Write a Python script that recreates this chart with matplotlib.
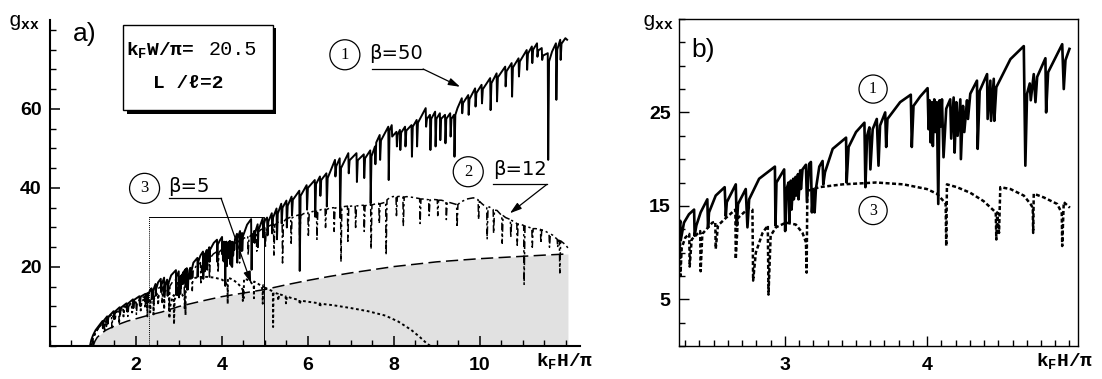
import numpy as np
import matplotlib
matplotlib.use("Agg")
import matplotlib.pyplot as plt
from matplotlib.patches import Rectangle
from matplotlib.ticker import MultipleLocator

plt.rcParams['mathtext.fontset'] = 'custom'
plt.rcParams['mathtext.rm'] = 'Liberation Mono'
plt.rcParams['mathtext.bf'] = 'Liberation Mono:bold'
plt.rcParams['mathtext.it'] = 'Liberation Mono:italic'

# ---------------- data ----------------
# curve 1 (beta=50), solid
beta50_lo = [(0.93, 0.0), (0.96, 1.5), (1.00, 2.7), (1.06, 4.0), (1.15, 5.3), (1.22, 6.3), (1.23, 4.5),
             (1.25, 6.4), (1.33, 7.5), (1.34, 5.6), (1.36, 7.4), (1.48, 8.8), (1.49, 6.8), (1.51, 8.7),
             (1.62, 9.8), (1.63, 8.0), (1.65, 9.7), (1.78, 10.8), (1.79, 8.8), (1.81, 10.7), (1.93, 11.8),
             (1.94, 9.6), (1.96, 11.7), (2.08, 12.6), (2.09, 10.3), (2.11, 12.5), (2.22, 13.2), (2.23, 11.0),
             (2.245, 12.4)]
beta50_zoom = [(2.256, 12.6), (2.265, 13.4), (2.268, 11.3), (2.291, 13.2), (2.326, 14.1), (2.362, 14.6),
               (2.366, 11.8), (2.378, 12.9), (2.408, 14.3), (2.455, 15.7), (2.460, 12.7), (2.467, 14.3),
               (2.514, 16.1), (2.577, 17.0), (2.585, 13.9), (2.592, 15.4), (2.655, 17.3), (2.662, 12.9),
               (2.671, 15.2), (2.725, 16.8), (2.737, 12.7), (2.749, 15.7), (2.819, 17.9), (2.930, 19.2),
               (2.934, 12.9), (2.941, 17.5), (2.995, 18.9), (3.002, 12.3), (3.012, 16.8), (3.026, 17.5),
               (3.031, 13.2), (3.042, 17.7), (3.047, 14.6), (3.059, 17.9), (3.063, 15.7), (3.075, 18.1),
               (3.080, 16.1), (3.092, 18.4), (3.096, 15.7), (3.108, 18.8), (3.113, 16.8), (3.124, 18.9),
               (3.148, 19.4), (3.155, 15.4), (3.171, 19.5), (3.183, 19.7), (3.190, 14.3), (3.200, 16.8),
               (3.209, 14.3), (3.218, 16.8), (3.242, 19.2), (3.265, 19.8), (3.270, 17.3), (3.282, 18.6),
               (3.336, 21.1), (3.430, 22.3), (3.434, 17.5), (3.448, 21.3), (3.500, 22.9), (3.559, 23.9),
               (3.566, 17.0), (3.578, 22.5), (3.594, 23.4), (3.601, 18.9), (3.617, 23.2), (3.646, 24.3),
               (3.658, 19.3), (3.669, 23.6), (3.705, 25.0), (3.712, 21.3), (3.721, 24.3), (3.810, 26.1),
               (3.885, 26.9), (3.892, 21.3), (3.904, 25.7), (3.951, 26.7), (4.003, 27.6), (4.010, 23.2),
               (4.017, 26.3), (4.024, 21.8), (4.033, 26.1), (4.040, 21.4), (4.050, 26.4), (4.057, 22.9),
               (4.068, 26.1), (4.078, 15.2), (4.087, 26.3), (4.095, 23.5), (4.104, 26.4), (4.115, 20.2),
               (4.134, 25.4), (4.162, 26.4), (4.169, 22.2), (4.186, 26.6), (4.193, 20.7), (4.205, 26.1),
               (4.214, 22.5), (4.233, 26.4), (4.237, 20.0), (4.252, 25.7), (4.261, 22.9), (4.280, 26.3),
               (4.287, 24.3), (4.303, 27.0), (4.350, 28.4), (4.355, 21.1), (4.369, 27.3), (4.421, 29.1),
               (4.425, 24.3), (4.444, 28.4), (4.449, 24.1), (4.468, 28.6), (4.472, 24.1), (4.486, 27.7),
               (4.585, 30.7), (4.679, 32.1), (4.690, 19.3), (4.702, 27.0), (4.721, 28.1), (4.728, 26.3),
               (4.749, 29.1), (4.761, 26.1), (4.773, 28.8), (4.831, 30.8), (4.836, 25.0), (4.850, 29.3),
               (4.949, 32.3), (4.960, 27.5), (4.972, 30.6), (5.000, 31.8)]
beta50_hi = [(5.05, 32.5), (5.06, 28.0), (5.08, 31.5), (5.16, 33.6), (5.17, 28.5), (5.19, 32.5), (5.27, 34.8),
             (5.28, 27.0), (5.30, 33.5), (5.38, 36.0), (5.39, 31.0), (5.41, 35.0), (5.50, 36.8), (5.51, 30.0),
             (5.53, 35.5), (5.62, 37.8), (5.63, 33.0), (5.65, 37.0), (5.80, 39.3), (5.81, 19.0), (5.83, 38.0),
             (5.97, 40.7), (5.98, 34.5), (6.00, 40.0), (6.16, 42.0), (6.17, 32.7), (6.19, 41.0), (6.28, 42.9),
             (6.29, 38.0), (6.31, 42.0), (6.43, 43.7), (6.44, 35.3), (6.46, 42.5), (6.63, 47.1), (6.64, 42.9),
             (6.66, 45.5), (6.74, 47.5), (6.75, 32.5), (6.77, 45.0), (6.94, 48.8), (6.95, 43.7), (6.97, 47.0),
             (7.13, 48.8), (7.14, 41.5), (7.16, 47.0), (7.30, 48.5), (7.31, 42.5), (7.33, 47.5), (7.45, 49.5),
             (7.46, 36.1), (7.48, 48.0), (7.56, 50.5), (7.57, 46.0), (7.59, 51.5), (7.67, 53.4), (7.68, 47.1),
             (7.70, 52.0), (7.87, 55.5), (7.88, 42.0), (7.90, 54.5), (7.95, 55.9), (7.96, 53.0), (8.06, 54.2),
             (8.07, 50.5), (8.09, 53.5), (8.14, 54.7), (8.15, 49.6), (8.17, 54.0), (8.26, 55.5), (8.27, 50.5),
             (8.29, 54.5), (8.41, 55.9), (8.42, 47.9), (8.44, 55.5), (8.53, 57.2), (8.54, 50.5), (8.56, 56.5),
             (8.74, 60.2), (8.75, 55.5), (8.77, 57.5), (8.84, 58.5), (8.85, 49.6), (8.87, 57.5), (8.96, 59.3),
             (8.97, 50.5), (8.99, 57.5), (9.07, 58.9), (9.08, 52.1), (9.10, 57.5), (9.19, 58.5), (9.20, 51.3),
             (9.22, 57.5), (9.31, 58.9), (9.32, 53.0), (9.34, 57.5), (9.40, 58.5), (9.41, 47.9), (9.43, 58.5),
             (9.48, 60.2), (9.58, 62.7), (9.59, 58.9), (9.61, 61.5), (9.73, 63.5), (9.74, 58.5), (9.76, 62.5),
             (9.89, 65.2), (9.90, 60.6), (9.92, 64.0), (10.04, 66.1), (10.05, 61.4), (10.07, 65.0),
             (10.24, 67.8), (10.25, 59.7), (10.27, 66.5), (10.39, 69.0), (10.40, 61.9), (10.42, 68.0),
             (10.59, 70.7), (10.60, 65.7), (10.62, 69.5), (10.74, 71.6), (10.75, 63.1), (10.77, 70.5),
             (10.90, 72.8), (10.91, 68.2), (10.93, 72.0), (11.09, 74.9), (11.10, 69.9), (11.12, 74.0),
             (11.21, 75.8), (11.22, 71.6), (11.24, 75.0), (11.33, 76.6), (11.34, 73.2), (11.36, 74.8),
             (11.44, 75.4), (11.45, 72.4), (11.47, 73.5), (11.58, 74.1), (11.59, 47.1), (11.61, 72.0),
             (11.68, 74.5), (11.77, 76.6), (11.78, 62.3), (11.80, 75.0), (11.87, 77.5), (11.88, 72.4),
             (11.90, 76.5), (11.99, 77.9), (12.03, 77.5)]

# curve 2 (beta=12), dash-dot
beta12_pts = [(0.97, 0.0), (1.00, 1.8), (1.05, 3.0), (1.12, 4.4), (1.20, 5.6), (1.26, 6.4), (1.27, 4.0), (1.29, 6.0),
              (1.35, 7.2), (1.43, 8.0), (1.44, 4.6), (1.46, 7.5), (1.52, 8.4), (1.60, 9.2), (1.61, 5.5), (1.63, 8.8),
              (1.70, 9.8), (1.80, 10.5), (1.81, 7.5), (1.83, 10.0), (1.90, 10.9), (2.00, 11.5), (2.01, 8.0),
              (2.03, 11.0), (2.10, 12.0), (2.20, 12.5), (2.21, 9.5), (2.23, 12.1), (2.30, 13.0), (2.40, 13.7),
              (2.41, 10.5), (2.43, 13.2), (2.50, 14.4), (2.60, 15.2), (2.61, 11.0), (2.63, 14.8), (2.70, 15.6),
              (2.76, 16.0), (2.77, 8.5), (2.79, 15.2), (2.85, 16.2), (2.95, 16.9), (2.96, 12.5), (2.98, 16.5),
              (3.05, 17.3), (3.12, 17.6), (3.13, 9.5), (3.15, 17.0), (3.20, 18.0), (3.30, 19.3), (3.31, 14.0),
              (3.33, 19.0), (3.40, 20.2), (3.50, 21.1), (3.51, 16.0), (3.53, 20.8), (3.60, 21.8), (3.70, 22.6),
              (3.71, 17.0), (3.73, 22.3), (3.80, 23.3), (3.90, 24.0), (3.91, 18.5), (3.93, 23.7), (4.00, 24.5),
              (4.10, 25.0), (4.11, 20.5), (4.13, 24.8), (4.20, 25.5), (4.21, 20.0), (4.23, 25.2), (4.30, 26.0),
              (4.40, 26.6), (4.41, 21.0), (4.43, 26.3), (4.50, 27.2), (4.60, 27.8), (4.61, 23.0), (4.63, 27.5),
              (4.70, 28.3), (4.80, 28.9), (4.81, 24.0), (4.83, 28.6), (4.90, 29.4), (5.00, 29.9), (5.01, 25.0),
              (5.03, 29.6), (5.10, 30.4), (5.20, 30.9), (5.21, 23.0), (5.23, 30.6), (5.30, 31.3), (5.40, 31.8),
              (5.41, 21.0), (5.43, 31.4), (5.50, 32.2), (5.60, 32.6), (5.61, 26.0), (5.63, 32.4), (5.70, 32.9),
              (5.80, 33.2), (5.81, 25.0), (5.83, 33.0), (5.90, 33.5), (6.00, 33.8), (6.01, 28.0), (6.03, 33.6),
              (6.10, 34.0), (6.20, 34.3), (6.21, 27.0), (6.23, 34.1), (6.30, 34.5), (6.40, 34.7), (6.41, 30.0),
              (6.43, 34.5), (6.50, 34.9), (6.60, 35.0), (6.61, 29.0), (6.63, 34.9), (6.70, 35.1), (6.76, 35.2),
              (6.77, 21.3), (6.79, 35.0), (6.85, 35.3), (6.92, 35.4), (6.93, 26.5), (6.95, 35.3), (7.00, 35.4),
              (7.10, 35.5), (7.11, 30.0), (7.13, 35.4), (7.20, 35.6), (7.30, 35.6), (7.31, 29.0), (7.33, 35.5),
              (7.40, 35.7), (7.46, 35.8), (7.47, 24.5), (7.49, 35.7), (7.55, 35.9), (7.65, 36.1), (7.66, 31.0),
              (7.68, 36.0), (7.75, 36.2), (7.81, 36.4), (7.82, 23.0), (7.84, 37.0), (7.90, 37.5), (7.97, 37.8),
              (8.05, 37.9), (8.06, 33.0), (8.08, 37.8), (8.15, 37.9), (8.21, 37.8), (8.22, 30.5), (8.24, 37.7),
              (8.30, 37.8), (8.45, 37.6), (8.60, 37.3), (8.61, 31.0), (8.63, 37.2), (8.70, 37.2), (8.81, 37.0),
              (8.82, 33.0), (8.84, 36.9), (8.90, 37.1), (9.01, 37.0), (9.02, 33.0), (9.04, 36.9), (9.10, 36.9),
              (9.21, 36.6), (9.22, 32.0), (9.24, 36.5), (9.30, 36.3), (9.46, 35.8), (9.47, 30.0), (9.49, 35.8),
              (9.55, 36.4), (9.70, 37.2), (9.85, 37.5), (9.96, 37.0), (9.97, 32.0), (9.99, 36.6), (10.05, 36.0),
              (10.16, 35.0), (10.17, 27.0), (10.19, 35.0), (10.22, 35.2), (10.31, 34.5), (10.32, 28.5),
              (10.34, 34.4), (10.40, 34.3), (10.51, 33.0), (10.52, 26.0), (10.54, 33.0), (10.60, 32.5),
              (10.71, 32.0), (10.72, 27.5), (10.74, 31.8), (10.78, 31.5), (10.86, 31.0), (10.87, 25.5),
              (10.89, 30.9), (10.95, 30.8), (11.02, 30.5), (11.03, 15.6), (11.05, 30.4), (11.10, 30.2),
              (11.21, 29.8), (11.22, 25.0), (11.24, 29.7), (11.30, 29.7), (11.41, 29.5), (11.42, 26.0),
              (11.44, 29.4), (11.50, 29.2), (11.61, 28.5), (11.62, 25.0), (11.64, 28.4), (11.70, 28.0),
              (11.80, 27.0), (11.81, 25.0), (11.83, 26.8), (11.85, 26.7), (11.86, 18.5), (11.88, 26.6),
              (11.95, 26.0), (12.00, 25.5), (12.05, 24.8)]

# curve 3 (beta=5), dotted
beta5_lo = [(0.96, 0.0), (0.99, 1.6), (1.03, 2.8), (1.10, 4.2), (1.20, 5.6), (1.30, 6.8), (1.31, 5.0), (1.33, 6.7),
            (1.40, 7.7), (1.50, 8.5), (1.51, 6.5), (1.53, 8.4), (1.60, 9.1), (1.70, 9.8), (1.71, 7.5), (1.73, 9.7),
            (1.80, 10.3), (1.90, 10.8), (1.91, 8.5), (1.93, 10.7), (2.00, 11.1), (2.10, 11.5), (2.11, 9.0),
            (2.13, 11.4), (2.20, 11.8), (2.24, 11.9), (2.25, 10.0)]
beta5_zoom = [(2.256, 9.8), (2.263, 11.5), (2.266, 7.5), (2.275, 10.5), (2.300, 11.6), (2.328, 12.0), (2.331, 8.5),
              (2.345, 11.4), (2.405, 12.3), (2.408, 8.0), (2.420, 12.0), (2.490, 13.2), (2.511, 13.3),
              (2.514, 10.4), (2.530, 12.9), (2.585, 13.7), (2.652, 14.6), (2.655, 9.3), (2.670, 13.7),
              (2.749, 14.8), (2.772, 14.6), (2.777, 7.0), (2.796, 10.0), (2.843, 12.1), (2.880, 12.9),
              (2.885, 5.5), (2.900, 11.8), (2.937, 12.7), (3.007, 13.2), (3.077, 13.0), (3.124, 12.1),
              (3.148, 11.1), (3.153, 7.85), (3.158, 16.6), (3.242, 17.0), (3.406, 17.3), (3.641, 17.5),
              (3.834, 17.3), (3.998, 16.8), (4.068, 16.3), (4.104, 15.7), (4.130, 15.2), (4.134, 10.7),
              (4.139, 17.3), (4.209, 17.0), (4.303, 16.4), (4.397, 15.5), (4.468, 14.5), (4.482, 14.3),
              (4.486, 11.4), (4.492, 14.3), (4.505, 12.1), (4.514, 17.0), (4.585, 16.8), (4.679, 16.1),
              (4.726, 15.2), (4.742, 14.8), (4.745, 12.1), (4.749, 16.3), (4.820, 15.9), (4.914, 15.2),
              (4.937, 14.5), (4.946, 14.2), (4.949, 10.7), (4.960, 15.4), (5.003, 14.8)]
beta5_hi = [(5.05, 14.5), (5.10, 14.3), (5.15, 14.0), (5.185, 13.8), (5.19, 4.8), (5.20, 13.6), (5.30, 13.2),
            (5.31, 11.5), (5.33, 13.1), (5.40, 12.9), (5.48, 12.6), (5.49, 10.8), (5.51, 12.5), (5.60, 12.2),
            (5.70, 11.9), (5.80, 11.6), (5.81, 10.5), (5.83, 11.5), (6.00, 11.2), (6.20, 10.9), (6.27, 10.8),
            (6.28, 9.8), (6.30, 10.7), (6.60, 10.3), (7.00, 9.6), (7.40, 8.8), (7.80, 7.7), (8.10, 6.2),
            (8.40, 4.1), (8.60, 2.3), (8.75, 0.8), (8.85, 0.0)]

# long-dashed curve with shaded area below
dash_x = [1.00, 1.05, 1.10, 1.20, 1.30, 1.45, 1.60, 1.80, 2.00, 2.30, 2.60, 3.00, 3.50, 4.00, 4.50, 5.00,
          5.50, 6.00, 6.50, 7.00, 7.50, 8.00, 8.50, 9.00, 9.50, 10.00, 10.50, 11.00, 11.50, 12.05]
dash_y = [0.0, 1.3, 2.2, 3.2, 4.0, 4.8, 5.5, 6.3, 6.9, 7.8, 8.6, 10.0, 11.3, 12.5, 13.4, 14.3,
          15.5, 16.6, 17.6, 18.5, 19.3, 20.1, 20.7, 21.3, 21.7, 22.1, 22.4, 22.7, 23.0, 23.3]

xticks_a = [2, 4, 6, 8, 10]
yticks_a = [20, 40, 60]
xticks_b = [3, 4]
yticks_b = [5, 15, 25]


def xy(*parts):
    a = np.array([p for part in parts for p in part])
    return a[:, 0], a[:, 1]


b50x, b50y = xy(beta50_lo, beta50_zoom, beta50_hi)
b12x, b12y = xy(beta12_pts)
b5x, b5y = xy(beta5_lo, beta5_zoom, beta5_hi)
z50x, z50y = xy(beta50_zoom)
z5x, z5y = xy(beta5_zoom)

W, H = 1102, 379
fig = plt.figure(figsize=(W / 100, H / 100), dpi=100)
axA = fig.add_axes([50 / W, (H - 346) / H, 530 / W, 326 / H])
axB = fig.add_axes([679 / W, (H - 346) / H, 399 / W, 327 / H])

TICKFONT = dict(family='Liberation Sans', weight='bold', size=14)
MONO = ['Liberation Mono', 'DejaVu Sans Mono', 'DejaVu Sans']

# ---------------- panel a ----------------
axA.fill_between(dash_x, 0, dash_y, color='#e1e1e1', lw=0, zorder=1)
axA.plot(dash_x, dash_y, color='k', lw=1.1, ls=(0, (8, 3.5)), zorder=2)
axA.plot(b5x, b5y, color='k', lw=1.4, ls=(0, (1.4, 1.4)), zorder=3)
axA.plot(b12x, b12y, color='k', lw=1.1, ls=(0, (5, 2, 1.5, 2)), zorder=4)
axA.plot(b50x, b50y, color='k', lw=1.4, zorder=5)

# zoom frame
axA.plot([2.30, 4.97, 4.97], [32.7, 32.7, 0], color='k', lw=0.7, zorder=6)
axA.plot([2.30, 2.30], [0, 32.7], color='k', lw=0.7, ls=(0, (1, 1)), zorder=6)

axA.set_xlim(0, 12.33)
axA.set_ylim(0, 82.5)
for s in ['top', 'right']:
    axA.spines[s].set_visible(False)
for s in ['left', 'bottom']:
    axA.spines[s].set_linewidth(1.5)
axA.set_xticks(xticks_a)
axA.set_xticklabels([str(v) for v in xticks_a], fontdict=TICKFONT)
axA.set_yticks(yticks_a)
axA.set_yticklabels([str(v) for v in yticks_a], fontdict=TICKFONT)
axA.xaxis.set_minor_locator(MultipleLocator(0.5))
axA.yaxis.set_minor_locator(MultipleLocator(5))
axA.tick_params(which='major', direction='in', length=7, width=1.1, pad=6)
axA.tick_params(which='minor', direction='in', length=4, width=1.0)
axA.tick_params(axis='x', which='major', pad=8)

axA.text(0.066, 0.958, 'a)', transform=axA.transAxes, ha='center', va='center',
         fontsize=19, family='Liberation Sans')

# parameter box with shadow
axA.add_patch(Rectangle((0.145, 0.712), 0.282, 0.262, transform=axA.transAxes,
                        fc='k', ec='k', lw=0, zorder=7))
axA.add_patch(Rectangle((0.138, 0.724), 0.282, 0.261, transform=axA.transAxes,
                        fc='white', ec='k', lw=1.0, zorder=8))
axA.text(0.143, 0.893, r'k$_\mathbf{F}$W/π=', transform=axA.transAxes, ha='left', va='baseline',
         fontsize=14, family=MONO, weight='bold', zorder=9)
axA.text(0.300, 0.893, '20.5', transform=axA.transAxes, ha='left', va='baseline',
         fontsize=14.5, family=MONO, zorder=9)
axA.text(0.194, 0.790, 'L /ℓ=2', transform=axA.transAxes, ha='left', va='baseline',
         fontsize=14, family=MONO, weight='bold', zorder=9)

CIRC = dict(boxstyle='circle,pad=0.42', fc='white', ec='k', lw=0.9)
AR = dict(arrowstyle='-|>,head_length=0.7,head_width=0.22', color='k', lw=0.9,
          shrinkA=0, shrinkB=0)


def label(ax, cx, cy, num, tx, ty, txt, ux0, ux1, uy, axx, axy, fs=14):
    ax.text(cx, cy, num, ha='center', va='center', fontsize=12, family='Liberation Serif',
            bbox=CIRC, zorder=10)
    ax.text(tx, ty, txt, ha='center', va='center', fontsize=fs, family='DejaVu Sans', zorder=10)
    ax.plot([ux0, ux1], [uy, uy], color='k', lw=0.9, zorder=10)
    ax.annotate('', xy=(axx, axy), xytext=(ux1, uy), arrowprops=AR, zorder=10)


label(axA, 6.86, 73.7, '1', 8.06, 74.1, 'β=50', 7.48, 8.68, 70.1, 9.54, 65.6)
label(axA, 9.73, 44.1, '2', 10.94, 44.6, 'β=12', 10.31, 11.56, 40.9, 10.70, 33.6)
label(axA, 2.20, 39.9, '3', 3.24, 40.3, 'β=5', 2.78, 3.98, 37.4, 4.68, 15.9)

# ---------------- panel b ----------------
axB.plot(z5x, z5y, color='k', lw=1.8, ls=(0, (1.6, 1.0)), zorder=3)
axB.plot(z50x, z50y, color='k', lw=1.9, zorder=4)
axB.set_xlim(2.256, 5.06)
axB.set_ylim(0, 35)
for s in axB.spines.values():
    s.set_linewidth(1.0)
axB.set_xticks(xticks_b)
axB.set_xticklabels([str(v) for v in xticks_b], fontdict=TICKFONT)
axB.set_yticks(yticks_b)
axB.set_yticklabels([str(v) for v in yticks_b], fontdict=TICKFONT)
axB.xaxis.set_minor_locator(MultipleLocator(0.1))
axB.yaxis.set_minor_locator(MultipleLocator(2.5))
axB.tick_params(which='major', direction='in', length=7, width=1.0, pad=6)
axB.tick_params(which='minor', direction='in', length=4, width=1.0)
axB.tick_params(axis='x', which='major', pad=8)
axB.text(0.06, 0.905, 'b)', transform=axB.transAxes, ha='center', va='center',
         fontsize=19, family='Liberation Sans')
CIRCB = dict(boxstyle='circle,pad=0.38', fc='white', ec='k', lw=0.9)
axB.text(3.62, 27.5, '1', ha='center', va='center', fontsize=11.5, family='Liberation Serif',
         bbox=CIRCB, zorder=10)
axB.text(3.62, 14.5, '3', ha='center', va='center', fontsize=11.5, family='Liberation Serif',
         bbox=CIRCB, zorder=10)

# axis titles
for xpx in (8, 642):
    fig.text(xpx / W, (H - 22) / H, r'g$_\mathbf{xx}$', ha='left', va='center',
             fontsize=15, family=MONO)
for xpx in (565, 1065):
    fig.text(xpx / W, (H - 361) / H, r'k$_\mathbf{F}$H/π', ha='center', va='center',
             fontsize=14, family=MONO, weight='bold')

fig.savefig('out.png', dpi=100)
